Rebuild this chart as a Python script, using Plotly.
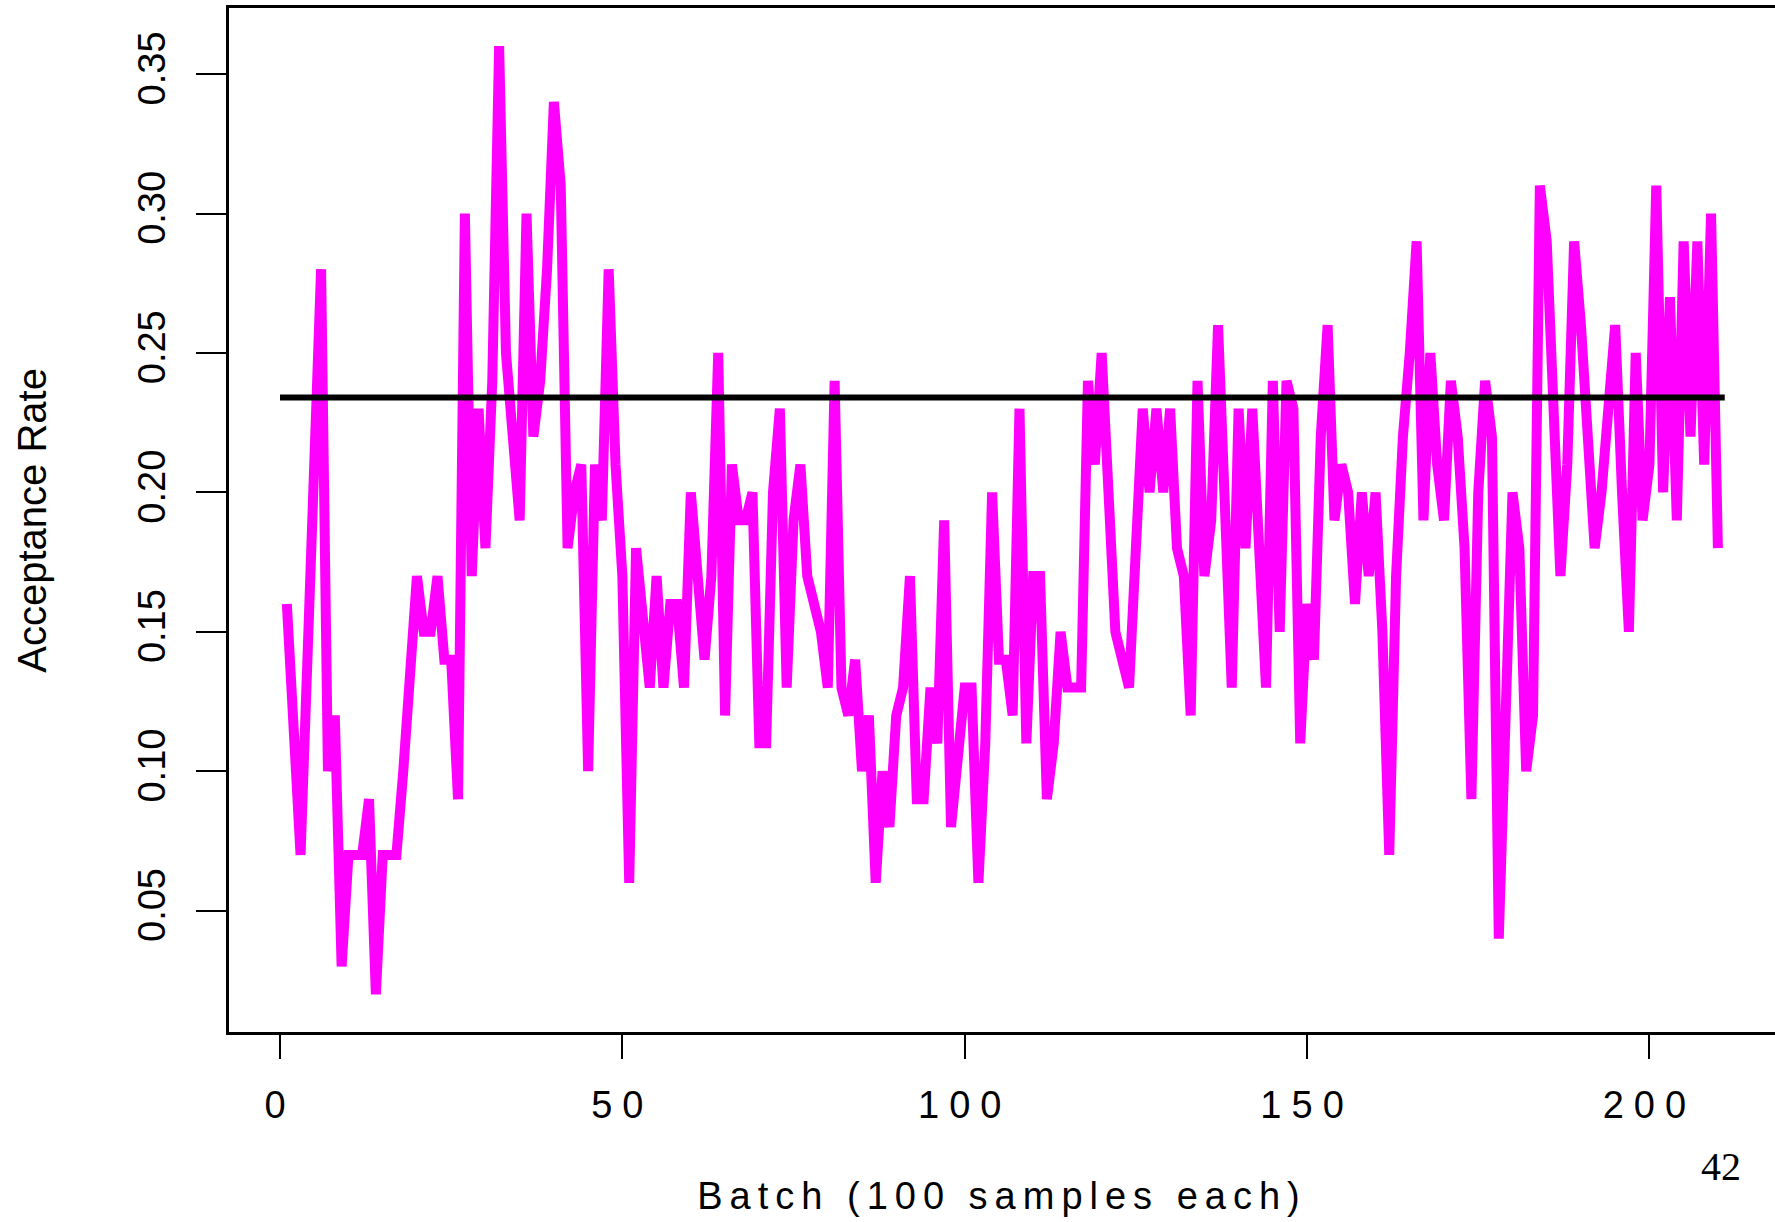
import plotly.graph_objects as go

batch = list(range(1, 211))
acceptance = [
    0.16, 0.11, 0.07, 0.14, 0.21, 0.28, 0.10, 0.12, 0.03, 0.07,
    0.07, 0.07, 0.09, 0.02, 0.07, 0.07, 0.07, 0.10, 0.14, 0.17,
    0.15, 0.15, 0.17, 0.14, 0.14, 0.09, 0.30, 0.17, 0.23, 0.18,
    0.24, 0.36, 0.25, 0.22, 0.19, 0.30, 0.22, 0.24, 0.28, 0.34,
    0.31, 0.18, 0.20, 0.21, 0.10, 0.21, 0.19, 0.28, 0.21, 0.17,
    0.06, 0.18, 0.15, 0.13, 0.17, 0.13, 0.16, 0.16, 0.13, 0.20,
    0.17, 0.14, 0.17, 0.25, 0.12, 0.21, 0.19, 0.19, 0.20, 0.11,
    0.11, 0.20, 0.23, 0.13, 0.19, 0.21, 0.17, 0.16, 0.15, 0.13,
    0.24, 0.13, 0.12, 0.14, 0.10, 0.12, 0.06, 0.10, 0.08, 0.12,
    0.13, 0.17, 0.09, 0.09, 0.13, 0.11, 0.19, 0.08, 0.11, 0.13,
    0.13, 0.06, 0.11, 0.20, 0.14, 0.14, 0.12, 0.23, 0.11, 0.17,
    0.17, 0.09, 0.11, 0.15, 0.13, 0.13, 0.13, 0.24, 0.21, 0.25,
    0.20, 0.15, 0.14, 0.13, 0.18, 0.23, 0.20, 0.23, 0.20, 0.23,
    0.18, 0.17, 0.12, 0.24, 0.17, 0.19, 0.26, 0.20, 0.13, 0.23,
    0.18, 0.23, 0.18, 0.13, 0.24, 0.15, 0.24, 0.23, 0.11, 0.16,
    0.14, 0.22, 0.26, 0.19, 0.21, 0.20, 0.16, 0.20, 0.17, 0.20,
    0.15, 0.07, 0.17, 0.22, 0.25, 0.29, 0.19, 0.25, 0.21, 0.19,
    0.24, 0.22, 0.18, 0.09, 0.20, 0.24, 0.22, 0.04, 0.12, 0.20,
    0.18, 0.10, 0.12, 0.31, 0.29, 0.23, 0.17, 0.21, 0.29, 0.26,
    0.22, 0.18, 0.20, 0.23, 0.26, 0.20, 0.15, 0.25, 0.19, 0.21,
    0.31, 0.20, 0.27, 0.19, 0.29, 0.22, 0.29, 0.21, 0.30, 0.18,
]
target_x = [0, 211]
target_rate = [0.234, 0.234]

x_ticks = [0, 50, 100, 150, 200]
y_ticks = [0.05, 0.10, 0.15, 0.20, 0.25, 0.30, 0.35]
y_tick_labels = ["0.05", "0.10", "0.15", "0.20", "0.25", "0.30", "0.35"]
x_title = "Batch (100 samples each)"
y_title = "Acceptance Rate"
page_number = "42"

SANS = "Liberation Sans, Arial, Helvetica, sans-serif"

fig = go.Figure()
fig.add_trace(go.Scatter(
    x=batch, y=acceptance, mode="lines",
    line=dict(color="#ff00ff", width=10),
    hoverinfo="skip", showlegend=False,
))
fig.add_trace(go.Scatter(
    x=target_x, y=target_rate, mode="lines",
    line=dict(color="#000000", width=6),
    hoverinfo="skip", showlegend=False,
))

fig.update_layout(
    width=1775, height=1222,
    margin=dict(l=229, r=0, t=8, b=190, autoexpand=False),
    paper_bgcolor="white", plot_bgcolor="white",
    font=dict(family=SANS, color="black", size=38),
    xaxis=dict(
        range=[-7.45, 218.34], tickmode="array", tickvals=x_ticks,
        ticktext=[str(v) for v in x_ticks],
        ticks="outside", ticklen=24, tickwidth=2, tickcolor="black",
        showline=True, linecolor="black", linewidth=3, mirror=True,
        showgrid=False, zeroline=False,
        tickfont=dict(family=SANS, size=38, color="black"),
        ticklabelstandoff=13,
        title=dict(text=x_title, font=dict(family=SANS, size=38, color="black"), standoff=58),
        automargin=False,
    ),
    yaxis=dict(
        range=[0.0065, 0.3737], tickmode="array", tickvals=y_ticks,
        ticktext=y_tick_labels, tickangle=-90,
        ticks="outside", ticklen=30, tickwidth=2, tickcolor="black",
        showline=True, linecolor="black", linewidth=3, mirror=False,
        showgrid=False, zeroline=False,
        tickfont=dict(family=SANS, size=38, color="black"),
        ticklabelstandoff=16,
        automargin=False,
    ),
    annotations=[
        dict(
            text=y_title, xref="paper", yref="paper",
            x=-0.1276, y=0.5, xanchor="center", yanchor="middle", textangle=-90,
            showarrow=False, font=dict(family=SANS, size=40, color="black"),
        ),
        dict(
            text=page_number, xref="paper", yref="paper",
            x=0.965, y=-0.1317, xanchor="center", yanchor="middle",
            showarrow=False, font=dict(family="Liberation Serif, Times New Roman, serif", size=40, color="black"),
        ),
    ],
)

post_js = """
var gd = document.getElementById('{plot_id}');
function spaceOut(){
  gd.querySelectorAll('.xtick text').forEach(function(t){ t.style.letterSpacing = '10px'; });
  var xt = gd.querySelector('.g-xtitle text');
  if (xt) { xt.style.letterSpacing = '7px'; }
}
spaceOut();
gd.on('plotly_afterplot', spaceOut);
"""

fig.write_html("out.html", post_script=post_js)
